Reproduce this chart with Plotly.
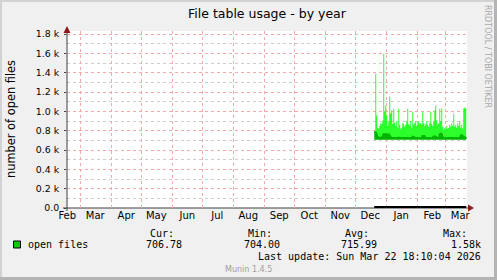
import plotly.graph_objects as go
import pandas as pd

# ---------------- data ----------------
start_date = "2025-12-20"
n_days = 93
dates = pd.date_range(start_date, periods=n_days, freq="D")

max_vals = [
    780, 1388, 957, 830, 820, 850, 880, 870, 905, 1595,
    1000, 1060, 960, 850, 900, 1153, 980, 1009, 870, 1026,
    880, 850, 900, 830, 1026, 860, 820, 830, 880, 870,
    840, 860, 900, 1026, 870, 850, 900, 830, 990, 860,
    880, 900, 850, 870, 900, 870, 880, 860, 990, 880,
    850, 870, 900, 860, 840, 880, 995, 870, 850, 900,
    1009, 1060, 905, 860, 880, 1026, 900, 1030, 840, 810,
    830, 820, 850, 820, 830, 860, 840, 877, 850, 974,
    840, 860, 830, 880, 850, 900, 830, 860, 820, 1030,
    1040, 1030, 800,
]
avg_vals = [
    785, 780, 760, 735, 728, 726, 730, 728, 740, 765,
    762, 765, 758, 760, 762, 745, 732, 728, 726, 724,
    728, 726, 724, 727, 730, 726, 724, 722, 724, 726,
    725, 724, 726, 728, 724, 722, 725, 724, 740, 738,
    726, 724, 722, 725, 724, 722, 724, 726, 745, 748,
    740, 728, 724, 722, 724, 726, 724, 722, 725, 740,
    742, 738, 726, 724, 728, 760, 770, 762, 732, 724,
    722, 724, 722, 724, 726, 722, 724, 726, 724, 722,
    724, 722, 726, 724, 722, 724, 745, 755, 742, 740,
    730, 724, 722,
]
min_vals = [706] * n_days
zero_vals = [0] * n_days

y_tick_vals = [0, 200, 400, 600, 800, 1000, 1200, 1400, 1600, 1800]
y_tick_text = ["0.0", "0.2 k", "0.4 k", "0.6 k", "0.8 k", "1.0 k",
               "1.2 k", "1.4 k", "1.6 k", "1.8 k"]

month_label_dates = ["2025-02-16", "2025-03-16", "2025-04-16", "2025-05-16",
                     "2025-06-16", "2025-07-16", "2025-08-16", "2025-09-16",
                     "2025-10-16", "2025-11-16", "2025-12-16", "2026-01-16",
                     "2026-02-16", "2026-03-16"]
month_labels = ["Feb", "Mar", "Apr", "May", "Jun", "Jul", "Aug", "Sep",
                "Oct", "Nov", "Dec", "Jan", "Feb", "Mar"]
month_starts = ["2025-03-01", "2025-04-01", "2025-05-01", "2025-06-01",
                "2025-07-01", "2025-08-01", "2025-09-01", "2025-10-01",
                "2025-11-01", "2025-12-01", "2026-01-01", "2026-02-01",
                "2026-03-01"]

x_range = ["2025-02-15 18:10:04", "2026-03-22 18:10:04"]
y_range = [0, 1831]

legend_name = "open files"
stat_headers = ["Cur:", "Min:", "Avg:", "Max:"]
stat_values = ["706.78", "704.00", "715.99", "1.58k"]

# ---------------- figure ----------------
W, H = 497, 280
ML, MR, MT, MB = 67, 30, 31, 72
PW, PH = W - ML - MR, H - MT - MB

def px(x):
    return (x - ML) / PW

def py(y):
    return (H - MB - y) / PH

LIGHT = "#2dff2d"
DARK = "#00b400"

fig = go.Figure()
fig.add_trace(go.Scatter(x=dates, y=min_vals, mode="lines", line=dict(width=0, shape="hv"),
                         showlegend=False, hoverinfo="skip"))
fig.add_trace(go.Scatter(x=dates, y=avg_vals, mode="lines", line=dict(width=1, color=DARK, shape="hv"),
                         fill="tonexty", fillcolor=DARK, showlegend=False))
fig.add_trace(go.Scatter(x=dates, y=max_vals, mode="lines", line=dict(width=0, color=LIGHT, shape="hv"),
                         fill="tonexty", fillcolor=LIGHT, showlegend=False))
fig.add_trace(go.Scatter(x=dates, y=avg_vals, mode="lines", line=dict(width=1.5, color=DARK, shape="hv"),
                         showlegend=False))
fig.add_trace(go.Scatter(x=dates, y=zero_vals, mode="lines", line=dict(width=4, color="#000000"),
                         showlegend=False, xaxis="x2"))

RED_GRID = "#f4a8a8"
GRAY_GRID = "#cdcdcd"
DASH = "dot"

fig.update_layout(
    xaxis=dict(
        range=x_range, type="date",
        tickmode="array", tickvals=month_starts, ticktext=[""] * len(month_starts),
        showgrid=True, gridcolor=RED_GRID, griddash=DASH, gridwidth=1,
        ticks="", zeroline=False, showline=False, showticklabels=False,
    ),
    xaxis2=dict(
        range=x_range, type="date", overlaying="x", side="bottom", anchor="y",
        tickmode="array", tickvals=month_label_dates, ticktext=month_labels,
        showgrid=False, ticks="", zeroline=False, showline=False,
        tickfont=dict(family="DejaVu Sans", size=10, color="#000"),
    ),
    yaxis=dict(
        range=y_range, tickmode="array", tickvals=y_tick_vals, ticktext=y_tick_text,
        showgrid=True, gridcolor=RED_GRID, griddash=DASH, gridwidth=1,
        zeroline=False, showline=False,
        ticks="outside", ticklen=2, tickcolor="#404040",
        ticklabelstandoff=3,
        tickfont=dict(family="DejaVu Sans", size=9.4, color="#000"),
        minor=dict(tickmode="linear", tick0=100, dtick=200, showgrid=True,
                   gridcolor=GRAY_GRID, griddash=DASH, gridwidth=1, ticks=""),
    ),
)

shapes = []
# axis lines and arrows
shapes.append(dict(type="line", xref="paper", yref="paper", x0=px(63), x1=px(471), y0=0, y1=0,
                   line=dict(color="#404040", width=1), layer="below"))
shapes.append(dict(type="line", xref="paper", yref="paper", x0=0, x1=0, y0=py(211), y1=py(28),
                   line=dict(color="#404040", width=1), layer="above"))
shapes.append(dict(type="path", xref="paper", yref="paper",
                   path=f"M {px(468)},{py(204.5)} L {px(474)},{py(208)} L {px(468)},{py(211.5)} Z",
                   fillcolor="#8b1a1a", line=dict(width=0), layer="above"))
shapes.append(dict(type="path", xref="paper", yref="paper",
                   path=f"M {px(63.5)},{py(33)} L {px(67)},{py(26)} L {px(70.5)},{py(33)} Z",
                   fillcolor="#8b1a1a", line=dict(width=0), layer="above"))
# legend colour box
shapes.append(dict(type="rect", xref="paper", yref="paper", x0=px(13.5), x1=px(20.5),
                   y0=py(248), y1=py(241), fillcolor="#00cc00",
                   line=dict(color="#000000", width=1), layer="above"))
# image frame
shapes.append(dict(type="rect", xref="paper", yref="paper", x0=px(0), x1=px(2), y0=py(280), y1=py(0),
                   fillcolor="#d2d2d2", line=dict(width=0), layer="above"))
shapes.append(dict(type="rect", xref="paper", yref="paper", x0=px(0), x1=px(497), y0=py(2), y1=py(0),
                   fillcolor="#d2d2d2", line=dict(width=0), layer="above"))
shapes.append(dict(type="rect", xref="paper", yref="paper", x0=px(494), x1=px(497), y0=py(280), y1=py(0),
                   fillcolor="#b4b4b4", line=dict(width=0), layer="above"))
shapes.append(dict(type="rect", xref="paper", yref="paper", x0=px(0), x1=px(497), y0=py(280), y1=py(277),
                   fillcolor="#b4b4b4", line=dict(width=0), layer="above"))

ann = []
def text(x, y, s, size=10, family="DejaVu Sans Mono", color="#000", xanchor="left", angle=0):
    ann.append(dict(x=px(x), y=py(y), xref="paper", yref="paper", text=s, showarrow=False,
                    xanchor=xanchor, yanchor="middle", textangle=angle,
                    font=dict(family=family, size=size, color=color)))

text(267.5, 13, "File table usage - by year", size=12.5, family="DejaVu Sans", xanchor="center")
text(11, 119, "number of open files", size=11.4, family="DejaVu Sans", xanchor="center", angle=-90)
text(488, 56, "RRDTOOL / TOBI OETIKER", size=8, family="DejaVu Sans", color="#a8a8a8",
     xanchor="center", angle=90)

hdr_right = [176, 274, 371, 469]
val_right = [184, 282, 379, 483]
for h, xr in zip(stat_headers, hdr_right):
    text(xr, 233, h, xanchor="right")
text(26, 244.5, legend_name)
for v, xr in zip(stat_values, val_right):
    text(xr, 244.5, v, xanchor="right")
text(483, 256.5, "Last update: Sun Mar 22 18:10:04 2026", xanchor="right")
text(248, 269, "Munin 1.4.5", size=8, family="DejaVu Sans", color="#a0a0a0", xanchor="center")

fig.update_layout(
    width=W, height=H, autosize=False,
    margin=dict(l=ML, r=MR, t=MT, b=MB, pad=0),
    paper_bgcolor="#f0f0f0", plot_bgcolor="#ffffff",
    showlegend=False, shapes=shapes, annotations=ann,
)

fig.write_html("out.html", config={"displayModeBar": False})
